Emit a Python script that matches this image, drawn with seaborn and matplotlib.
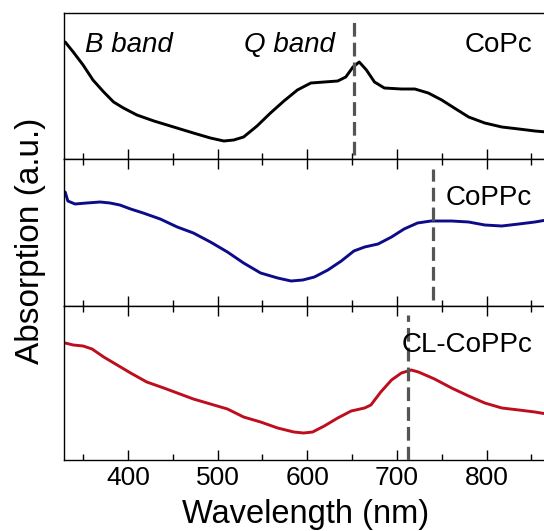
import numpy as np
import pandas as pd
import matplotlib
matplotlib.use("Agg")
import matplotlib.pyplot as plt
import matplotlib.transforms as mtransforms
import seaborn as sns

# ---------------- data ----------------
copc_wl = [330, 339, 350, 361, 373, 384, 395, 410, 429, 451, 473, 492, 507, 518,
           529, 544, 559, 574, 589, 604, 619, 634, 643, 651, 658, 666, 675, 686,
           705, 720, 735, 750, 764, 780, 798, 817, 836, 854, 867]
copc_abs = [1.17, 1.07, 0.94, 0.79, 0.67, 0.57, 0.51, 0.44, 0.38, 0.32, 0.26, 0.21,
            0.18, 0.19, 0.22, 0.33, 0.46, 0.58, 0.69, 0.76, 0.77, 0.78, 0.82, 0.92,
            0.97, 0.89, 0.77, 0.71, 0.70, 0.70, 0.66, 0.59, 0.51, 0.42, 0.36, 0.32,
            0.30, 0.28, 0.27]

coppc_wl = [330, 333, 341, 354, 369, 380, 391, 403, 417, 436, 455, 473, 492, 511,
            529, 548, 567, 582, 595, 608, 623, 638, 652, 664, 679, 694, 708, 723,
            738, 761, 780, 798, 817, 836, 854, 867]
coppc_abs = [1.14, 1.05, 1.02, 1.03, 1.04, 1.03, 1.01, 0.97, 0.93, 0.87, 0.79, 0.73,
             0.64, 0.54, 0.43, 0.33, 0.28, 0.25, 0.26, 0.29, 0.36, 0.45, 0.55, 0.59,
             0.62, 0.69, 0.77, 0.83, 0.85, 0.85, 0.84, 0.81, 0.80, 0.82, 0.84, 0.86]

clcoppc_wl = [330, 339, 350, 360, 373, 388, 403, 421, 440, 455, 473, 492, 511, 529,
              548, 567, 585, 596, 606, 619, 634, 649, 664, 671, 682, 694, 705, 716,
              724, 742, 761, 780, 798, 817, 836, 854, 867]
clcoppc_abs = [1.17, 1.15, 1.14, 1.11, 1.03, 0.95, 0.87, 0.78, 0.72, 0.67, 0.61, 0.56,
               0.51, 0.43, 0.38, 0.32, 0.28, 0.27, 0.28, 0.34, 0.42, 0.49, 0.52, 0.55,
               0.68, 0.80, 0.87, 0.90, 0.88, 0.81, 0.72, 0.64, 0.57, 0.52, 0.50, 0.48,
               0.46]

samples = ["CoPc", "CoPPc", "CL-CoPPc"]
peak_wl = [652, 740, 712]
band_labels = ["B band", "Q band"]
band_wl = [352, 529]
xticks = [400, 500, 600, 700, 800]

# ---------------- styling ----------------
sns.set_style("ticks")
plt.rcParams["font.family"] = ["Liberation Sans", "DejaVu Sans"]
plt.rcParams["text.color"] = "black"
plt.rcParams["axes.labelcolor"] = "black"
plt.rcParams["xtick.color"] = "black"

colors = ["#000000", "#0c0c8a", "#be0d1e"]
ylims = [(0, 1.46), (0, 1.47), (0, 1.54)]
label_y = [0.733, 0.687, 0.70]
dash_span = [(0.03, 0.955), (0.04, 0.935), (0.0, 0.94)]

fig = plt.figure(figsize=(5.44, 5.31), dpi=100)
left, right = 64 / 544, 1.004
tops = [1 - 13 / 531, 1 - 159 / 531, 1 - 306 / 531]
bots = [1 - 159 / 531, 1 - 306 / 531, 1 - 460 / 531]

datasets = [(copc_wl, copc_abs), (coppc_wl, coppc_abs), (clcoppc_wl, clcoppc_abs)]
axes = []
for i in range(3):
    ax = fig.add_axes([left, bots[i], right - left, tops[i] - bots[i]])
    axes.append(ax)
    wl, ab = datasets[i]
    df = pd.DataFrame({"Wavelength": wl, "Absorption": ab})
    sns.lineplot(data=df, x="Wavelength", y="Absorption", ax=ax, color=colors[i],
                 linewidth=2.1, legend=False)
    for ln in ax.lines:
        ln.set_solid_joinstyle("round")
        ln.set_solid_capstyle("round")
    ax.axvline(peak_wl[i], ymin=dash_span[i][0], ymax=dash_span[i][1],
               color="#555555", linewidth=2.3, linestyle=(0, (4.3, 1.9)), zorder=3)
    ax.set_xlim(328.7, 866.5)
    ax.set_ylim(*ylims[i])
    ax.set_yticks([])
    ax.set_ylabel("")
    ax.set_xticks(xticks)
    ax.set_xticks([350, 450, 550, 650, 750, 850], minor=True)
    ax.tick_params(axis="x", which="major", direction="in", length=7, width=1.0,
                   top=(i > 0), bottom=True, labelsize=19, pad=4, colors="black")
    ax.tick_params(axis="x", which="minor", direction="in", length=4, width=1.0,
                   top=(i > 0), bottom=True)
    for sp in ["left", "top", "bottom"]:
        ax.spines[sp].set_linewidth(1.0)
        ax.spines[sp].set_color("black")
    ax.spines["right"].set_visible(False)
    if i < 2:
        ax.tick_params(axis="x", labelbottom=False)
        ax.set_xlabel("")
    trans = mtransforms.blended_transform_factory(ax.transData, ax.transAxes)
    ax.text(851, label_y[i], samples[i], transform=trans, ha="right",
            va="baseline", fontsize=20, color="black", zorder=4)

trans0 = mtransforms.blended_transform_factory(axes[0].transData, axes[0].transAxes)
for lab, x in zip(band_labels, band_wl):
    axes[0].text(x, 0.733, lab, transform=trans0, ha="left", va="baseline",
                 fontsize=20, style="italic", color="black")

axes[2].set_xlabel("Wavelength (nm)", fontsize=23.5, labelpad=7, color="black")
fig.text(31 / 544, 1 - 241 / 531, "Absorption (a.u.)", rotation=90,
         ha="center", va="center", fontsize=24, color="black")

fig.savefig("out.png", dpi=100)
